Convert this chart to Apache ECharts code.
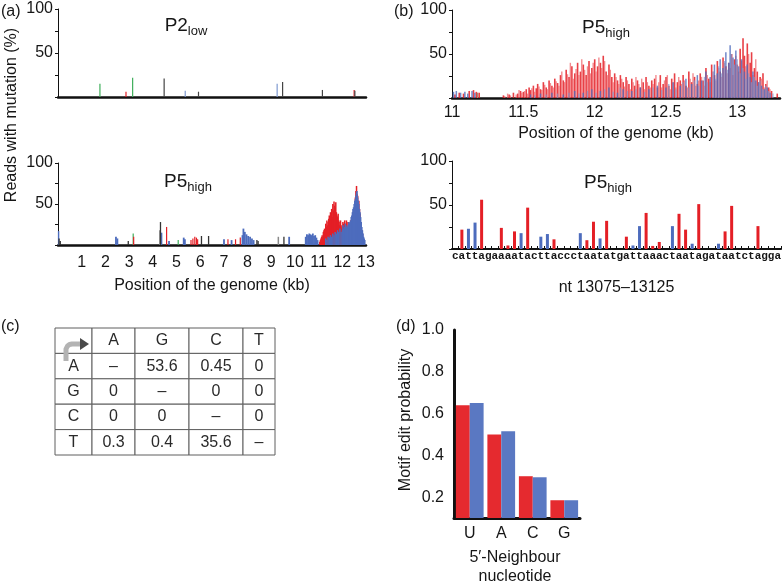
<!DOCTYPE html>
<html>
<head>
<meta charset="utf-8">
<script src="https://cdn.jsdelivr.net/npm/echarts@6/dist/echarts.min.js"></script>
<style>
html, body { margin: 0; padding: 0; background: #fff; }
#main { width: 784px; height: 585px; }
</style>
</head>
<body>
<div id="main"></div>
<script>
var FONT = '"Liberation Sans", Arial, sans-serif';
var MONO = '"Liberation Mono", "DejaVu Sans Mono", monospace';
var RED = '#e41f26', BLUE = '#4d6cbd', GREEN = '#3fae5b', GREY = '#8a8a8a';
var TXT = '#161616';

// (a) P2low : sparse peaks [kb, %]
var p2Green = [[1.77, 15], [3.15, 22]];
var p2Red = [[2.87, 6], [12.50, 8]];
var p2Blue = [[5.37, 7], [9.25, 15]];
var p2Black = [[4.48, 21], [5.93, 6], [9.48, 17], [11.16, 8], [12.53, 7]];

// (a) P5high : whole genome [kb, %]
var p5Black = [[0.05, 8], [0.10, 5], [2.97, 5], [4.33, 28], [6.06, 11], [6.36, 11], [8.40, 6], [8.45, 5], [9.54, 10]];
var p5Grey = [[4.30, 18], [9.30, 10]];
var p5Green = [[3.18, 14], [5.08, 6]];
var p5RedSparse = [[3.20, 10], [4.59, 22], [5.62, 6], [5.70, 8], [5.78, 10], [5.85, 9], [5.90, 7], [7.18, 7], [7.50, 7], [7.70, 9]];
var p5BlueSparse = [[0.01, 17], [2.44, 10], [2.50, 8], [4.36, 15], [4.68, 5], [5.30, 9], [5.35, 7], [7.00, 7], [7.32, 6],
  [7.78, 12], [7.82, 20], [7.88, 16], [7.95, 13], [8.02, 11], [8.10, 10], [8.18, 8], [8.25, 6], [9.75, 10],
  [10.45, 10], [10.50, 13], [10.55, 12], [10.60, 14], [10.65, 13], [10.70, 12], [10.75, 14], [10.80, 11], [10.85, 12], [10.90, 9], [10.95, 6]];
var p5RedDense = [[11.05, 4], [11.10, 8], [11.15, 12], [11.20, 16], [11.25, 20], [11.30, 26], [11.35, 30], [11.40, 28], [11.45, 36],
  [11.50, 40], [11.55, 44], [11.60, 50], [11.65, 53], [11.70, 46], [11.75, 40], [11.80, 34], [11.85, 30], [11.90, 28], [11.95, 24],
  [12.00, 22], [12.05, 26], [12.10, 30], [12.15, 24], [12.20, 28], [12.25, 22], [12.30, 26], [12.35, 30], [12.40, 32], [12.45, 36],
  [12.50, 44], [12.55, 58], [12.60, 72], [12.65, 60], [12.70, 54], [12.75, 38], [12.80, 22], [12.85, 14]];
var p5RedDense2 = [[11.075, 6], [11.125, 10], [11.175, 9], [11.225, 18], [11.275, 14], [11.325, 22], [11.375, 24], [11.425, 32],
  [11.475, 30], [11.525, 38], [11.575, 34], [11.625, 42], [11.675, 48], [11.725, 52], [11.775, 36], [11.825, 38], [11.875, 24],
  [11.925, 30], [11.975, 20], [12.025, 28], [12.075, 22], [12.125, 26], [12.175, 30], [12.225, 20], [12.275, 28], [12.325, 24],
  [12.375, 28], [12.425, 30], [12.475, 40], [12.525, 50], [12.575, 66], [12.625, 62], [12.675, 48], [12.725, 44], [12.775, 28], [12.825, 18]];
var p5BlueDense = [[11.30, 8], [11.40, 10], [11.50, 12], [11.60, 14], [11.70, 16], [11.80, 18], [11.90, 20], [12.00, 18], [12.05, 20],
  [12.10, 22], [12.15, 20], [12.20, 24], [12.25, 22], [12.30, 26], [12.35, 30], [12.40, 36], [12.45, 44], [12.50, 50], [12.55, 56],
  [12.60, 64], [12.62, 66], [12.65, 58], [12.70, 50], [12.75, 40], [12.80, 28], [12.85, 18], [12.90, 10], [12.95, 6]];
var p5BlueDense2 = [[11.35, 6], [11.45, 9], [11.55, 10], [11.65, 12], [11.75, 14], [11.85, 16], [11.95, 16], [12.025, 24], [12.075, 18],
  [12.125, 26], [12.175, 22], [12.225, 20], [12.275, 28], [12.325, 24], [12.375, 34], [12.425, 40], [12.475, 46], [12.525, 54],
  [12.575, 60], [12.625, 60], [12.675, 54], [12.725, 44], [12.775, 34], [12.825, 22], [12.875, 14], [12.925, 8]];

// (b) P5high : 11-13.3 kb [kb, %]
var zoomRed = [[11.02, 4], [11.05, 6], [11.08, 5], [11.12, 8], [11.15, 9], [11.17, 7], [11.19, 6],
  [11.36, 3], [11.40, 4], [11.43, 6], [11.46, 5], [11.48, 8], [11.50, 7], [11.52, 10], [11.54, 12], [11.55, 9], [11.57, 14],
  [11.59, 11], [11.60, 16], [11.62, 10], [11.64, 18], [11.66, 12], [11.68, 20], [11.70, 14], [11.72, 22], [11.74, 17],
  [11.76, 26], [11.78, 20], [11.80, 32], [11.82, 24], [11.84, 36], [11.86, 28], [11.88, 40], [11.90, 30], [11.92, 38],
  [11.94, 26], [11.96, 42], [11.98, 34], [12.00, 44], [12.02, 36], [12.04, 40], [12.06, 48], [12.08, 30], [12.10, 38],
  [12.12, 24], [12.14, 28], [12.16, 20], [12.18, 26], [12.20, 18], [12.22, 24], [12.24, 16], [12.26, 22], [12.28, 14],
  [12.30, 20], [12.32, 12], [12.34, 18], [12.36, 24], [12.38, 14], [12.40, 20], [12.42, 22], [12.44, 12], [12.46, 26],
  [12.48, 16], [12.50, 24], [12.52, 14], [12.54, 22], [12.56, 28], [12.58, 18], [12.60, 20], [12.62, 26], [12.64, 14],
  [12.66, 30], [12.68, 18], [12.70, 24], [12.72, 16], [12.74, 28], [12.76, 20], [12.78, 34], [12.80, 22], [12.82, 38],
  [12.84, 26], [12.86, 42], [12.88, 30], [12.90, 46], [12.92, 36], [12.94, 40], [12.96, 50], [12.98, 44], [13.00, 38],
  [13.02, 56], [13.04, 68], [13.05, 48], [13.07, 62], [13.09, 40], [13.10, 52], [13.12, 34], [13.14, 30], [13.16, 24],
  [13.18, 28], [13.20, 16], [13.22, 12], [13.24, 8], [13.28, 5]];
var zoomRed2 = [[11.37, 2], [11.39, 5], [11.41, 3], [11.45, 4], [11.47, 9], [11.49, 6], [11.51, 8], [11.53, 5], [11.56, 11],
  [11.58, 7], [11.61, 13], [11.63, 9], [11.65, 15], [11.67, 10], [11.69, 17], [11.71, 12], [11.73, 19], [11.75, 14], [11.77, 30],
  [11.79, 18], [11.81, 27], [11.83, 40], [11.85, 22], [11.87, 33], [11.89, 26], [11.91, 44], [11.93, 32], [11.95, 36], [11.97, 28],
  [11.99, 40], [12.01, 30], [12.03, 46], [12.05, 34], [12.07, 42], [12.09, 26], [12.11, 32], [12.13, 18], [12.15, 24], [12.17, 16],
  [12.19, 22], [12.21, 13], [12.23, 20], [12.25, 10], [12.27, 18], [12.29, 24], [12.31, 16], [12.33, 22], [12.35, 10], [12.37, 18],
  [12.39, 12], [12.41, 16], [12.43, 26], [12.45, 18], [12.47, 12], [12.49, 20], [12.51, 26], [12.53, 10], [12.55, 18], [12.57, 12],
  [12.59, 24], [12.61, 16], [12.63, 20], [12.65, 12], [12.67, 22], [12.69, 28], [12.71, 14], [12.73, 20], [12.75, 24], [12.77, 14],
  [12.79, 26], [12.81, 18], [12.83, 30], [12.85, 20], [12.87, 34], [12.89, 24], [12.91, 40], [12.93, 28], [12.95, 34], [12.97, 26],
  [12.99, 48], [13.01, 30], [13.03, 42], [13.06, 36], [13.08, 50], [13.11, 26], [13.13, 44], [13.15, 18], [13.17, 22], [13.19, 12],
  [13.21, 20], [13.23, 10]];
var zoomBlue = [[11.01, 7], [11.03, 8], [11.06, 6], [11.09, 7], [11.11, 5], [11.14, 8], [11.16, 6],
  [11.55, 4], [11.62, 5], [11.70, 6], [11.78, 4], [11.86, 8], [11.92, 6], [11.98, 10], [12.04, 8], [12.10, 12], [12.16, 6],
  [12.20, 10], [12.26, 8], [12.32, 12], [12.38, 10], [12.44, 14], [12.50, 12], [12.55, 18], [12.60, 14], [12.64, 22],
  [12.68, 16], [12.72, 26], [12.75, 20], [12.78, 30], [12.81, 24], [12.84, 38], [12.86, 28], [12.88, 44], [12.90, 34],
  [12.92, 52], [12.94, 40], [12.95, 60], [12.97, 46], [12.99, 54], [13.01, 36], [13.03, 44], [13.05, 30], [13.07, 38],
  [13.09, 24], [13.11, 30], [13.13, 20], [13.15, 18], [13.17, 14], [13.19, 10], [13.21, 12], [13.23, 6]];
var zoomBlue2 = [[11.58, 3], [11.66, 4], [11.74, 5], [11.82, 6], [11.89, 5], [11.95, 8], [12.01, 6], [12.07, 10], [12.13, 7],
  [12.18, 12], [12.23, 8], [12.29, 10], [12.35, 7], [12.41, 12], [12.47, 9], [12.52, 16], [12.57, 10], [12.62, 18], [12.66, 12],
  [12.70, 20], [12.73, 14], [12.77, 24], [12.79, 18], [12.83, 30], [12.85, 22], [12.87, 36], [12.89, 28], [12.91, 42], [12.93, 32],
  [12.96, 50], [12.98, 38], [13.00, 44], [13.02, 28], [13.04, 34], [13.06, 22], [13.08, 28], [13.10, 18], [13.12, 24], [13.14, 14],
  [13.16, 20], [13.18, 10], [13.20, 14], [13.22, 8], [13.25, 5]];
var zoomGrey = [[11.18, 6]];

// (b) nt 13075-13125 : [letter index, %]
var seq = 'cattagaaaatacttaccctaatatgattaaactaatagataatctagga'.split('');
var ntRed = [[1, 22], [4, 56], [7, 24], [8, 4], [9, 20], [11, 47], [15, 11], [20, 10], [21, 31], [23, 32], [26, 14],
  [29, 41], [30, 3.5], [31, 8], [34, 40], [35, 22], [37, 51], [41, 20], [42, 49], [46, 26]];
var ntBlue = [[2, 23], [3, 30], [10, 18], [13, 14], [14, 17], [19, 18], [22, 12], [27, 4], [28, 26], [33, 26], [36, 6], [40, 6]];

// (c) substitution table
var tableCols = ['A', 'G', 'C', 'T'];
var tableRows = ['A', 'G', 'C', 'T'];
var tableVals = [
  ['–', '53.6', '0.45', '0'],
  ['0', '–', '0', '0'],
  ['0', '0', '–', '0'],
  ['0.3', '0.4', '35.6', '–']
];

// (d) motif edit probability
var motifCats = ['U', 'A', 'C', 'G'];
var motifRed = [0.64, 0.50, 0.30, 0.185];
var motifBlue = [0.65, 0.515, 0.295, 0.185];

var colWidths = [37, 43, 54, 54, 32];
var colEdges = [0];
colWidths.forEach(function (w) { colEdges.push(colEdges[colEdges.length - 1] + w); });

var chart = echarts.init(document.getElementById('main'));

function pctAxis(gi) {
  return {
    type: 'value', gridIndex: gi, min: 0, max: 100, interval: 25,
    axisLine: { show: true, lineStyle: { color: '#111', width: 1 } },
    axisTick: { show: true, length: 3, lineStyle: { color: '#111' } },
    splitLine: { show: false },
    axisLabel: {
      fontSize: 16, fontFamily: FONT, color: TXT, margin: 5,
      formatter: function (v) { return (v === 50 || v === 100) ? v : ''; }
    }
  };
}

function bars(data, xi, color, width, opacity) {
  return {
    type: 'bar', xAxisIndex: xi, yAxisIndex: xi, data: data, barWidth: width, barGap: '-100%',
    itemStyle: { color: color, opacity: opacity == null ? 1 : opacity }, silent: true
  };
}

function cellText(r, c) {
  if (r === 0) return c === 0 ? '' : tableCols[c - 1];
  if (c === 0) return tableRows[r - 1];
  return tableVals[r - 1][c - 1];
}

var cells = [];
for (var r = 0; r < 5; r++) {
  for (var c = 0; c < 5; c++) cells.push([c, r]);
}

function renderCell(params, api) {
  var c = api.value(0), r = api.value(1);
  var a = api.coord([colEdges[c], r]);
  var b = api.coord([colEdges[c + 1], r]);
  var h = api.size([0, 1])[1];
  var x = a[0], y = a[1] - h / 2, w = b[0] - a[0];
  var kids = [{
    type: 'rect', z2: 0, shape: { x: x, y: y, width: w, height: h },
    style: { fill: '#fff', stroke: '#5e5e5e', lineWidth: 1 }
  }];
  var t = cellText(r, c);
  if (t) {
    kids.push({
      type: 'text', z2: 5,
      style: {
        text: t, x: x + w / 2, y: y + h / 2, textAlign: 'center', textVerticalAlign: 'middle',
        align: 'center', verticalAlign: 'middle', fontSize: 16, fontFamily: FONT, fill: '#2a2a2a'
      }
    });
  }
  if (r === 0 && c === 0) {
    kids.push({
      type: 'polyline', z2: 20,
      shape: { points: [[x + 11, y + 33], [x + 11, y + 21], [x + 12.5, y + 18], [x + 14.5, y + 16.5], [x + 17, y + 16], [x + 26, y + 16]] },
      style: { stroke: '#b3b3b3', lineWidth: 5, fill: null, lineJoin: 'round' }
    });
    kids.push({
      type: 'polygon', z2: 21,
      shape: { points: [[x + 25, y + 10], [x + 34, y + 16], [x + 25, y + 22]] },
      style: { fill: '#4a4a4a' }
    });
  }
  return { type: 'group', children: kids };
}

function sub(main, s, x, y) {
  return {
    type: 'text', x: x, y: y,
    style: {
      text: '{m|' + main + '}{s|' + s + '}', textAlign: 'center', textVerticalAlign: 'middle',
      align: 'center', verticalAlign: 'middle', fill: TXT,
      rich: {
        m: { fontSize: 19, fontFamily: FONT, fill: TXT },
        s: { fontSize: 13, fontFamily: FONT, fill: TXT, padding: [11, 0, 0, 0] }
      }
    }
  };
}

function label(text, x, y) {
  return {
    type: 'text', x: x, y: y,
    style: { text: text, fontSize: 16, fontFamily: FONT, fill: TXT, textVerticalAlign: 'middle', verticalAlign: 'middle' }
  };
}

var option = {
  animation: false,
  backgroundColor: '#fff',
  grid: [
    { left: 58, top: 9, width: 308, height: 88 },
    { left: 58, top: 163, width: 308, height: 82 },
    { left: 452, top: 10, width: 328, height: 88 },
    { left: 452, top: 161, width: 330, height: 88 },
    { left: 55, top: 328, width: 220, height: 127 },
    { left: 454, top: 330, width: 126, height: 188 }
  ],
  xAxis: [
    {
      type: 'value', gridIndex: 0, min: 0, max: 13, interval: 1,
      axisLine: { lineStyle: { color: '#111', width: 2.5 } }, axisTick: { show: false },
      axisLabel: { show: false }, splitLine: { show: false }
    },
    {
      type: 'value', gridIndex: 1, min: 0, max: 13, interval: 1,
      axisLine: { lineStyle: { color: '#111', width: 2.5 } }, axisTick: { show: false }, splitLine: { show: false },
      axisLabel: {
        fontSize: 16, fontFamily: FONT, color: TXT, margin: 10,
        formatter: function (v) { return v === 0 ? '' : v; }
      },
      name: 'Position of the genome (kb)', nameLocation: 'middle', nameGap: 33,
      nameTextStyle: { fontSize: 16, fontFamily: FONT, color: TXT }
    },
    {
      type: 'value', gridIndex: 2, min: 11, max: 13.3, interval: 0.5,
      axisLine: { lineStyle: { color: '#111', width: 2.5 } }, axisTick: { show: false }, splitLine: { show: false },
      axisLabel: {
        fontSize: 16, fontFamily: FONT, color: TXT, margin: 7, showMaxLabel: false,
        formatter: function (v) { return Math.abs(v * 2 - Math.round(v * 2)) < 1e-6 ? String(v) : ''; }
      },
      name: 'Position of the genome (kb)', nameLocation: 'middle', nameGap: 28,
      nameTextStyle: { fontSize: 16, fontFamily: FONT, color: TXT }
    },
    {
      type: 'category', gridIndex: 3, data: seq,
      axisLine: { lineStyle: { color: '#111', width: 2 } },
      axisTick: { show: true, interval: 0, inside: true, length: 3, lineStyle: { color: '#111' } },
      axisLabel: { interval: 0, fontSize: 11, fontWeight: 'bold', fontFamily: MONO, color: TXT, margin: 2 },
      name: 'nt 13075–13125', nameLocation: 'middle', nameGap: 31,
      nameTextStyle: { fontSize: 16, fontFamily: FONT, color: TXT }
    },
    { type: 'value', gridIndex: 4, min: 0, max: colEdges[colEdges.length - 1], show: false },
    {
      type: 'category', gridIndex: 5, data: motifCats,
      axisLine: { lineStyle: { color: '#111', width: 3 } }, axisTick: { show: false },
      axisLabel: { fontSize: 16, fontFamily: FONT, color: TXT, margin: 8 }
    }
  ],
  yAxis: [
    pctAxis(0), pctAxis(1), pctAxis(2), pctAxis(3),
    { type: 'category', gridIndex: 4, data: ['', 'A', 'G', 'C', 'T'], inverse: true, show: false },
    {
      type: 'value', gridIndex: 5, min: 0.1, max: 1.0, interval: 0.1,
      axisLine: { show: true, lineStyle: { color: '#111', width: 3 } }, axisTick: { show: false }, splitLine: { show: false },
      axisLabel: {
        fontSize: 16, fontFamily: FONT, color: TXT, margin: 10,
        formatter: function (v) { var k = Math.round(v * 10); return k % 2 === 0 ? (k / 10).toFixed(1) : ''; }
      }
    }
  ],
  series: [
    // (a) top
    bars(p2Green, 0, GREEN, 1.2), bars(p2Red, 0, RED, 1.2), bars(p2Blue, 0, '#7f9ad0', 1.2), bars(p2Black, 0, '#444', 1.2),
    // (a) bottom
    bars(p5Green, 1, GREEN, 1.2), bars(p5Grey, 1, GREY, 1.5), bars(p5RedSparse, 1, RED, 1.2),
    bars(p5BlueSparse, 1, BLUE, 1.8), bars(p5Black, 1, '#333', 1.3),
    bars(p5RedDense, 1, RED, 1.5), bars(p5RedDense2, 1, RED, 1.5),
    bars(p5BlueDense, 1, BLUE, 1.5), bars(p5BlueDense2, 1, BLUE, 1.5),
    // (b) top
    bars(zoomGrey, 2, '#9a9a80', 1.3),
    bars(zoomRed, 2, RED, 1.6, 0.85), bars(zoomRed2, 2, '#ee5a5f', 1.4, 0.7),
    bars(zoomBlue, 2, BLUE, 1.5, 0.8), bars(zoomBlue2, 2, '#7f95cf', 1.4, 0.7),
    // (b) bottom
    bars(ntRed, 3, RED, 3), bars(ntBlue, 3, BLUE, 3),
    // (c) table
    { type: 'custom', xAxisIndex: 4, yAxisIndex: 4, data: cells, renderItem: renderCell, silent: true },
    // (d)
    {
      type: 'bar', xAxisIndex: 5, yAxisIndex: 5, data: motifRed, barGap: '0%', barCategoryGap: '12%',
      itemStyle: { color: '#e52a2f' }, silent: true
    },
    {
      type: 'bar', xAxisIndex: 5, yAxisIndex: 5, data: motifBlue, barGap: '0%', barCategoryGap: '12%',
      itemStyle: { color: '#5a78c2' }, silent: true
    }
  ],
  graphic: [
    label('(a)', 1, 12), label('(b)', 394, 12), label('(c)', 1, 327), label('(d)', 396, 327),
    sub('P2', 'low', 186, 26), sub('P5', 'high', 188, 182), sub('P5', 'high', 606, 28), sub('P5', 'high', 608, 183),
    {
      type: 'text', x: 12, y: 115, rotation: Math.PI / 2,
      style: {
        text: 'Reads with mutation (%)', fontSize: 16, fontFamily: FONT, fill: TXT,
        textAlign: 'center', textVerticalAlign: 'middle', align: 'center', verticalAlign: 'middle'
      }
    },
    {
      type: 'text', x: 406, y: 420, rotation: Math.PI / 2,
      style: {
        text: 'Motif edit probability', fontSize: 16, fontFamily: FONT, fill: TXT,
        textAlign: 'center', textVerticalAlign: 'middle', align: 'center', verticalAlign: 'middle'
      }
    },
    {
      type: 'text', x: 515, y: 567,
      style: {
        text: '5′-Neighbour\nnucleotide', fontSize: 16, fontFamily: FONT, fill: TXT, lineHeight: 19,
        textAlign: 'center', textVerticalAlign: 'middle', align: 'center', verticalAlign: 'middle'
      }
    }
  ]
};

chart.setOption(option);
</script>
</body>
</html>
